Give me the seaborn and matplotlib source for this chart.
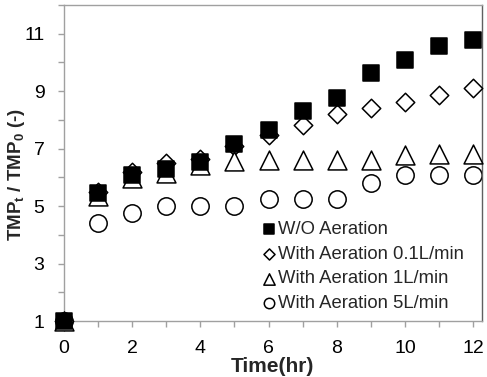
import matplotlib
matplotlib.use('Agg')
import matplotlib.pyplot as plt
import seaborn as sns
import pandas as pd
from matplotlib.ticker import MultipleLocator, FixedLocator

# ---- data ----
time_hr = [0, 1, 2, 3, 4, 5, 6, 7, 8, 9, 10, 11, 12]
wo_aeration = [1.0, 5.47, 6.07, 6.30, 6.52, 7.17, 7.66, 8.32, 8.78, 9.65, 10.09, 10.56, 10.77]
aeration_01 = [1.0, 5.50, 6.20, 6.50, 6.64, 7.10, 7.48, 7.83, 8.20, 8.41, 8.64, 8.87, 9.10]
aeration_1 = [1.0, 5.34, 5.98, 6.16, 6.42, 6.58, 6.62, 6.62, 6.62, 6.62, 6.78, 6.82, 6.82]
aeration_5 = [1.0, 4.40, 4.77, 5.02, 5.02, 5.02, 5.25, 5.25, 5.25, 5.80, 6.09, 6.09, 6.09]
labels = ['W/O Aeration', 'With Aeration 0.1L/min', 'With Aeration 1L/min', 'With Aeration 5L/min']
x_ticks = [0, 2, 4, 6, 8, 10, 12]
y_ticks = [1, 3, 5, 7, 9, 11]

sns.set_style('white')
plt.rcParams['font.family'] = ['Liberation Sans', 'DejaVu Sans']
plt.rcParams['mathtext.fontset'] = 'custom'
plt.rcParams['mathtext.bf'] = 'Liberation Sans:bold'
plt.rcParams['mathtext.rm'] = 'Liberation Sans'

fig = plt.figure(figsize=(4.87, 3.77), dpi=100)
ax = fig.add_axes([0.1314, 0.1485, 0.8576, 0.8382])

series = [
    (aeration_5, labels[3], 'o', 'white', 12.5, 2),
    (aeration_01, labels[1], 'D', 'white', 9.4, 3),
    (aeration_1, labels[2], '^', 'white', 13.6, 4),
    (wo_aeration, labels[0], 's', 'black', 11.8, 5),
]
for vals, lab, mk, fc, ms, z in series:
    df = pd.DataFrame({'t': time_hr, 'v': vals})
    sns.scatterplot(data=df, x='t', y='v', marker=mk, s=ms ** 2, color=fc,
                    edgecolor='black', linewidth=1.1, ax=ax, zorder=z,
                    clip_on=False, label=lab)

ax.set_xlim(0, 12.25)
ax.set_ylim(1, 12)
ax.xaxis.set_major_locator(FixedLocator(x_ticks))
ax.xaxis.set_minor_locator(MultipleLocator(1))
ax.yaxis.set_major_locator(FixedLocator(y_ticks))
ax.yaxis.set_minor_locator(MultipleLocator(1))
ax.tick_params(axis='both', which='both', direction='out', length=4, width=1,
               color='#a0a0a0', labelsize=14, labelcolor='black')
ax.tick_params(axis='x', which='major', pad=10)
ax.tick_params(axis='y', which='major', pad=10)
ax.tick_params(axis='both', which='both', bottom=True, left=True)

for side in ['top', 'left', 'bottom']:
    ax.spines[side].set_color('#a0a0a0')
    ax.spines[side].set_linewidth(1)
ax.spines['right'].set_color('#606060')
ax.spines['right'].set_linewidth(1)

ax.set_xlabel('Time(hr)', fontsize=15, fontweight='bold', labelpad=0)
ax.set_ylabel(r'TMP$_\mathbf{t}$ / TMP$_\mathbf{0}$ (-)', fontsize=13.5,
              fontweight='bold')
ax.yaxis.set_label_coords(-0.088, 0.462)

h, l = ax.get_legend_handles_labels()
order = [l.index(x) for x in labels]
leg = ax.legend([h[i] for i in order], [l[i] for i in order], frameon=False,
                loc='center left', bbox_to_anchor=(0.473, 0.1725),
                fontsize=13.3, handlelength=0.8, handletextpad=0.1,
                labelspacing=0.42, borderpad=0, borderaxespad=0,
                markerscale=0.6)

fig.savefig('out.png', dpi=100)
